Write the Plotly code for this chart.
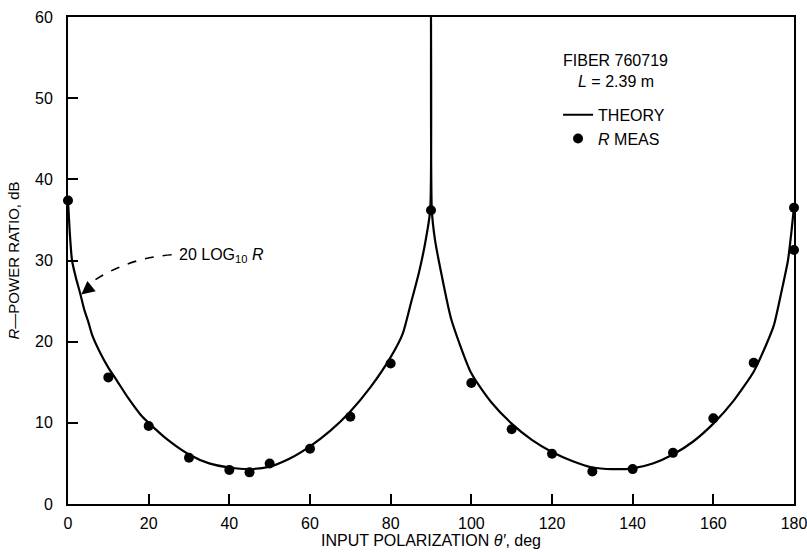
import plotly.graph_objects as go

# Theory curve (20 log10 R)
theory_theta = [0, 0.5, 1, 2, 3, 4, 5, 6, 8, 10, 12, 15, 18, 20, 25, 30, 35, 40, 45, 50, 55,
                60, 65, 70, 75, 80, 83, 85, 87, 88.5, 89.8, 90,
                90.2, 91, 92.4, 95, 100, 105, 110, 115, 120, 125, 130, 135, 140, 145,
                150, 155, 160, 165, 170, 173, 175, 177, 178.5, 179.4, 180]
theory_db = [37.4, 33.0, 30.0, 27.8, 26.0, 24.0, 22.5, 20.8, 18.6, 16.8, 15.3, 13.0, 11.0, 10.0, 7.8, 6.1, 5.0, 4.5, 4.3, 4.6, 5.6,
             7.1, 9.0, 11.4, 14.4, 18.1, 21.0, 24.7, 28.5, 32.0, 36.2, 60.0,
             36.2, 32.5, 28.8, 22.8, 16.1, 12.5, 9.9, 7.9, 6.4, 5.3, 4.5, 4.3, 4.4, 5.0,
             6.1, 7.7, 9.9, 12.7, 16.3, 19.5, 22.0, 26.4, 30.0, 33.7, 36.6]

# Measured R
meas_theta = [0, 10, 20, 30, 40, 45, 50, 60, 70, 80, 90, 100, 110, 120, 130, 140, 150, 160, 170, 180, 180]
meas_db = [37.4, 15.6, 9.6, 5.7, 4.2, 3.9, 5.0, 6.8, 10.75, 17.3, 36.2, 14.9, 9.2, 6.2, 4.0, 4.3, 6.3, 10.55, 17.4, 36.5, 31.3]

x_ticks = [0, 20, 40, 60, 80, 100, 120, 140, 160, 180]
y_ticks = [0, 10, 20, 30, 40, 50, 60]

FONT = "Liberation Sans, Arial, Helvetica, sans-serif"

fig = go.Figure()
fig.add_trace(go.Scatter(x=theory_theta, y=theory_db, mode="lines", name="THEORY",
                         line=dict(color="black", width=2.2, shape="spline", smoothing=0.6),
                         cliponaxis=False))
fig.add_trace(go.Scatter(x=meas_theta, y=meas_db, mode="markers", name="<i>R</i> MEAS",
                         marker=dict(color="black", size=10), cliponaxis=False))

axis_common = dict(showline=True, linecolor="black", linewidth=2, mirror=True,
                   ticks="inside", ticklen=10, tickwidth=1.5, tickcolor="black",
                   showgrid=False, zeroline=False, automargin=False,
                   ticklabeloverflow="allow",
                   tickfont=dict(family=FONT, size=16, color="black"))

fig.update_xaxes(range=[0, 180], tickvals=x_ticks, ticktext=[str(v) for v in x_ticks],
                 ticklabelstandoff=4,
                 title=dict(text="INPUT POLARIZATION <i>θ′</i>, deg",
                            font=dict(family=FONT, size=16, color="black"), standoff=4),
                 **axis_common)
fig.update_yaxes(range=[0, 60], tickvals=y_ticks, ticktext=[str(v) for v in y_ticks],
                 ticklabelstandoff=10,
                 title=dict(text="<i>R</i>—POWER RATIO, dB",
                            font=dict(family=FONT, size=15, color="black"), standoff=12),
                 **axis_common)

# dashed curved pointer for "20 LOG10 R"
fig.add_shape(type="path", path="M 25.7,30.7 Q 14.1,30.3 4.6,26.9",
              line=dict(color="black", width=1.6, dash="dash"), xref="x", yref="y")
fig.add_annotation(x=3.3, y=25.8, ax=11, ay=-9, xref="x", yref="y", axref="pixel", ayref="pixel",
                   text="", showarrow=True, arrowhead=2, arrowsize=1.2, arrowwidth=2.2, arrowcolor="black")
fig.add_annotation(x=27.0, y=30.6, xref="x", yref="y", xanchor="left", yanchor="middle",
                   text="20 LOG<sub>10</sub> <i>R</i>", showarrow=False,
                   font=dict(family=FONT, size=16, color="black"))

# legend header lines
fig.add_annotation(x=135.8, y=54.6, xref="x", yref="y", xanchor="center", yanchor="middle",
                   text="FIBER 760719", showarrow=False,
                   font=dict(family=FONT, size=16, color="black"))
fig.add_annotation(x=135.8, y=52.0, xref="x", yref="y", xanchor="center", yanchor="middle",
                   text="<i>L</i> = 2.39 m", showarrow=False,
                   font=dict(family=FONT, size=16, color="black"))

fig.update_layout(
    width=807, height=552,
    margin=dict(l=68, r=13, t=17, b=48),
    plot_bgcolor="white", paper_bgcolor="white",
    font=dict(family=FONT, color="black"),
    showlegend=True,
    legend=dict(x=0.675, y=0.834, xanchor="left", yanchor="top",
                bgcolor="rgba(0,0,0,0)",
                font=dict(family=FONT, size=16, color="black"),
                itemwidth=30, tracegroupgap=0),
)

fig.write_html("out.html", config={"displayModeBar": False},
               post_script="document.body.style.margin='0';document.body.style.overflow='hidden';")
